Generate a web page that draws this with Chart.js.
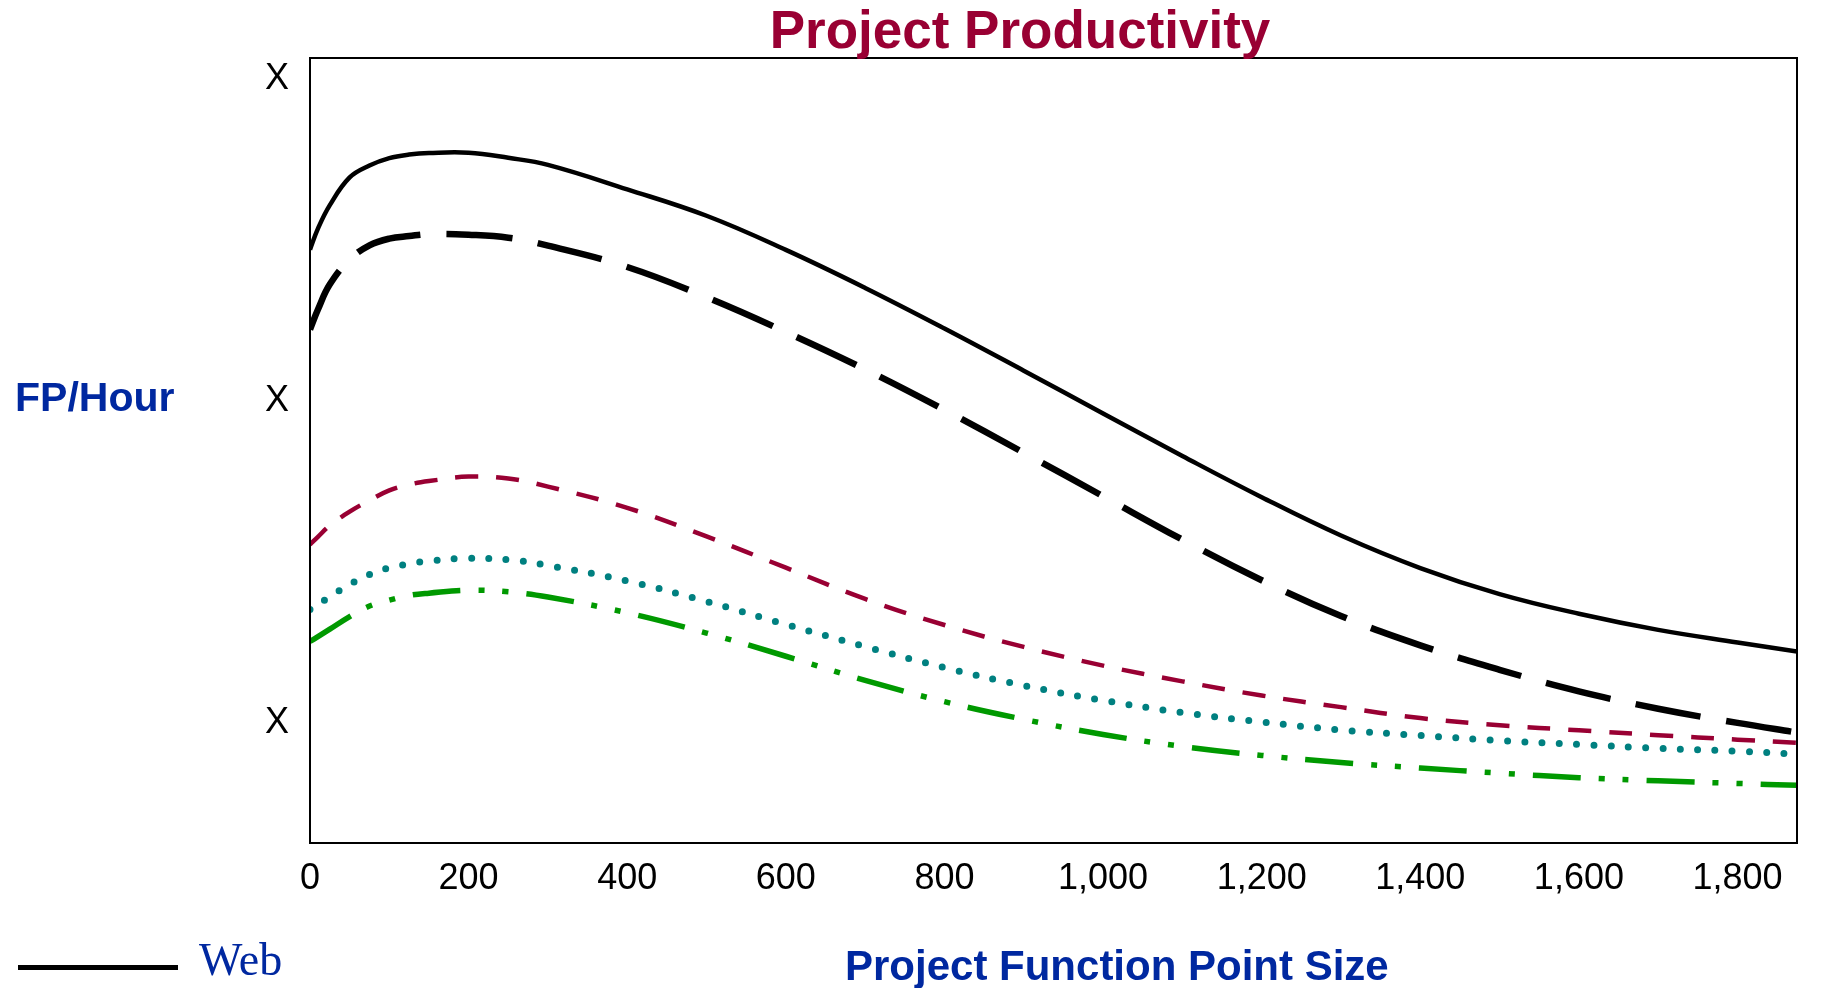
<!DOCTYPE html>
<html>
<head>
<meta charset="utf-8">
<title>Project Productivity</title>
<script src="https://cdn.jsdelivr.net/npm/chart.js@4.4.1/dist/chart.umd.min.js"></script>
<style>
  html, body { margin: 0; padding: 0; background: #ffffff; }
  #wrap { width: 1830px; height: 988px; }
</style>
</head>
<body>
<div id="wrap"><canvas id="chart" width="1830" height="988"></canvas></div>
<script>
// Project size in function points (x) and productivity in FP per hour (y)
const fpSize = [0, 10, 25, 50, 75, 100, 125, 150, 200, 250, 300, 400, 500, 600, 700, 800, 900, 1000, 1100, 1200, 1300, 1400, 1500, 1600, 1700, 1800, 1875];

const webRate   = [24.61, 25.26, 25.99, 26.85, 27.22, 27.45, 27.56, 27.61, 27.62, 27.46, 27.24, 26.48, 25.66, 24.60, 23.42, 22.16, 20.85, 19.52, 18.20, 16.92, 15.73, 14.72, 13.91, 13.30, 12.80, 12.41, 12.13];
const seriesB   = [22.13, 22.75, 23.53, 24.30, 24.74, 24.95, 25.03, 25.09, 25.07, 24.98, 24.73, 24.07, 23.13, 22.05, 20.89, 19.63, 18.30, 16.95, 15.60, 14.34, 13.23, 12.32, 11.56, 10.89, 10.35, 9.91, 9.61];
const seriesC   = [15.45, 15.69, 16.04, 16.47, 16.82, 17.13, 17.31, 17.42, 17.56, 17.50, 17.25, 16.59, 15.70, 14.73, 13.76, 12.95, 12.27, 11.69, 11.20, 10.76, 10.40, 10.06, 9.84, 9.68, 9.53, 9.39, 9.29];
const seriesD   = [13.43, 13.59, 13.83, 14.21, 14.52, 14.73, 14.85, 14.94, 15.02, 14.98, 14.80, 14.32, 13.68, 12.97, 12.28, 11.63, 11.07, 10.61, 10.23, 9.94, 9.69, 9.52, 9.36, 9.24, 9.12, 9.03, 8.94];
const seriesE   = [12.44, 12.59, 12.82, 13.21, 13.54, 13.72, 13.87, 13.94, 14.03, 13.98, 13.82, 13.33, 12.70, 11.98, 11.23, 10.57, 10.02, 9.55, 9.18, 8.90, 8.68, 8.51, 8.35, 8.21, 8.11, 8.03, 7.97];

const seriesLabels = ['Web', 'Series B', 'Series C', 'Series D', 'Series E'];

// Axis ticks
const xTickValues = [0, 200, 400, 600, 800, 1000, 1200, 1400, 1600, 1800];
const xTickLabels = ['0', '200', '400', '600', '800', '1,000', '1,200', '1,400', '1,600', '1,800'];
const yTickValues = [10, 20, 30];
const yTickLabels = ['X', 'X', 'X'];

const chartTitle = 'Project Productivity';
const yTitle = 'FP/Hour';
const xTitle = 'Project Function Point Size';

const SANS = '"Liberation Sans", Arial, Helvetica, sans-serif';
const SERIF = '"Liberation Serif", "Times New Roman", serif';
const BLUE = '#0028a0';
const MAROON = '#990033';

function points(ys) {
  return fpSize.map((x, i) => ({ x: x, y: ys[i] }));
}

// Frame, titles and the legend entry drawn on top of the plot
const frameAndText = {
  id: 'frameAndText',
  afterDraw(chart) {
    const ctx = chart.ctx;
    const a = chart.chartArea;
    ctx.save();

    ctx.strokeStyle = '#000000';
    ctx.lineWidth = 2;
    ctx.setLineDash([]);
    ctx.strokeRect(a.left, a.top, a.right - a.left, a.bottom - a.top);

    ctx.textBaseline = 'alphabetic';

    ctx.fillStyle = MAROON;
    ctx.font = 'bold 53px ' + SANS;
    ctx.textAlign = 'center';
    ctx.fillText(chartTitle, 1020, 48);

    ctx.fillStyle = BLUE;
    ctx.font = 'bold 41px ' + SANS;
    ctx.textAlign = 'left';
    ctx.fillText(yTitle, 15, 411);

    ctx.font = 'bold 42px ' + SANS;
    ctx.fillText(xTitle, 845, 980);

    // legend entry for the first series
    const ds = chart.data.datasets[0];
    ctx.strokeStyle = ds.borderColor;
    ctx.lineWidth = 5;
    ctx.lineCap = 'butt';
    ctx.beginPath();
    ctx.moveTo(18, 967.5);
    ctx.lineTo(178, 967.5);
    ctx.stroke();

    ctx.fillStyle = BLUE;
    ctx.font = '46px ' + SERIF;
    ctx.fillText(ds.label, 199, 975);

    ctx.restore();
  }
};

const lineBase = {
  pointRadius: 0,
  pointHoverRadius: 0,
  fill: false,
  tension: 0.4,
  borderJoinStyle: 'round'
};

new Chart(document.getElementById('chart'), {
  type: 'line',
  data: {
    datasets: [
      Object.assign({}, lineBase, {
        label: seriesLabels[0], data: points(webRate),
        borderColor: '#000000', borderWidth: 4.5
      }),
      Object.assign({}, lineBase, {
        label: seriesLabels[1], data: points(seriesB),
        borderColor: '#000000', borderWidth: 6.5, borderDash: [66, 26], borderCapStyle: 'butt'
      }),
      Object.assign({}, lineBase, {
        label: seriesLabels[2], data: points(seriesC),
        borderColor: MAROON, borderWidth: 4.5, borderDash: [23, 18], borderCapStyle: 'butt'
      }),
      Object.assign({}, lineBase, {
        label: seriesLabels[3], data: points(seriesD),
        borderColor: '#008080', borderWidth: 7, borderDash: [0, 17.3], borderCapStyle: 'round'
      }),
      Object.assign({}, lineBase, {
        label: seriesLabels[4], data: points(seriesE),
        borderColor: '#009900', borderWidth: 5.5, borderDash: [48, 18, 6, 18, 6, 18], borderCapStyle: 'butt'
      })
    ]
  },
  options: {
    responsive: false,
    animation: false,
    events: [],
    layout: { padding: { top: 58, right: 33, left: 0, bottom: 0 } },
    plugins: {
      legend: { display: false },
      title: { display: false },
      tooltip: { enabled: false }
    },
    scales: {
      x: {
        type: 'linear',
        min: 0,
        max: 1875,
        grid: { display: false, drawTicks: false, tickLength: 0 },
        border: { display: false },
        afterBuildTicks: (scale) => { scale.ticks = xTickValues.map(v => ({ value: v })); },
        afterFit: (scale) => { scale.height = 145; },
        ticks: {
          autoSkip: false,
          maxRotation: 0,
          padding: 14,
          color: '#000000',
          font: { family: SANS, size: 36 },
          callback: (value, index) => xTickLabels[index]
        }
      },
      y: {
        type: 'linear',
        min: 6.18,
        max: 30.56,
        grid: { display: false, drawTicks: false, tickLength: 0 },
        border: { display: false },
        afterBuildTicks: (scale) => { scale.ticks = yTickValues.map(v => ({ value: v })); },
        afterFit: (scale) => { scale.width = 310; },
        ticks: {
          autoSkip: false,
          padding: 21,
          labelOffset: 3,
          color: '#000000',
          font: { family: SANS, size: 36 },
          callback: (value, index) => yTickLabels[index]
        }
      }
    }
  },
  plugins: [frameAndText]
});
</script>
</body>
</html>
